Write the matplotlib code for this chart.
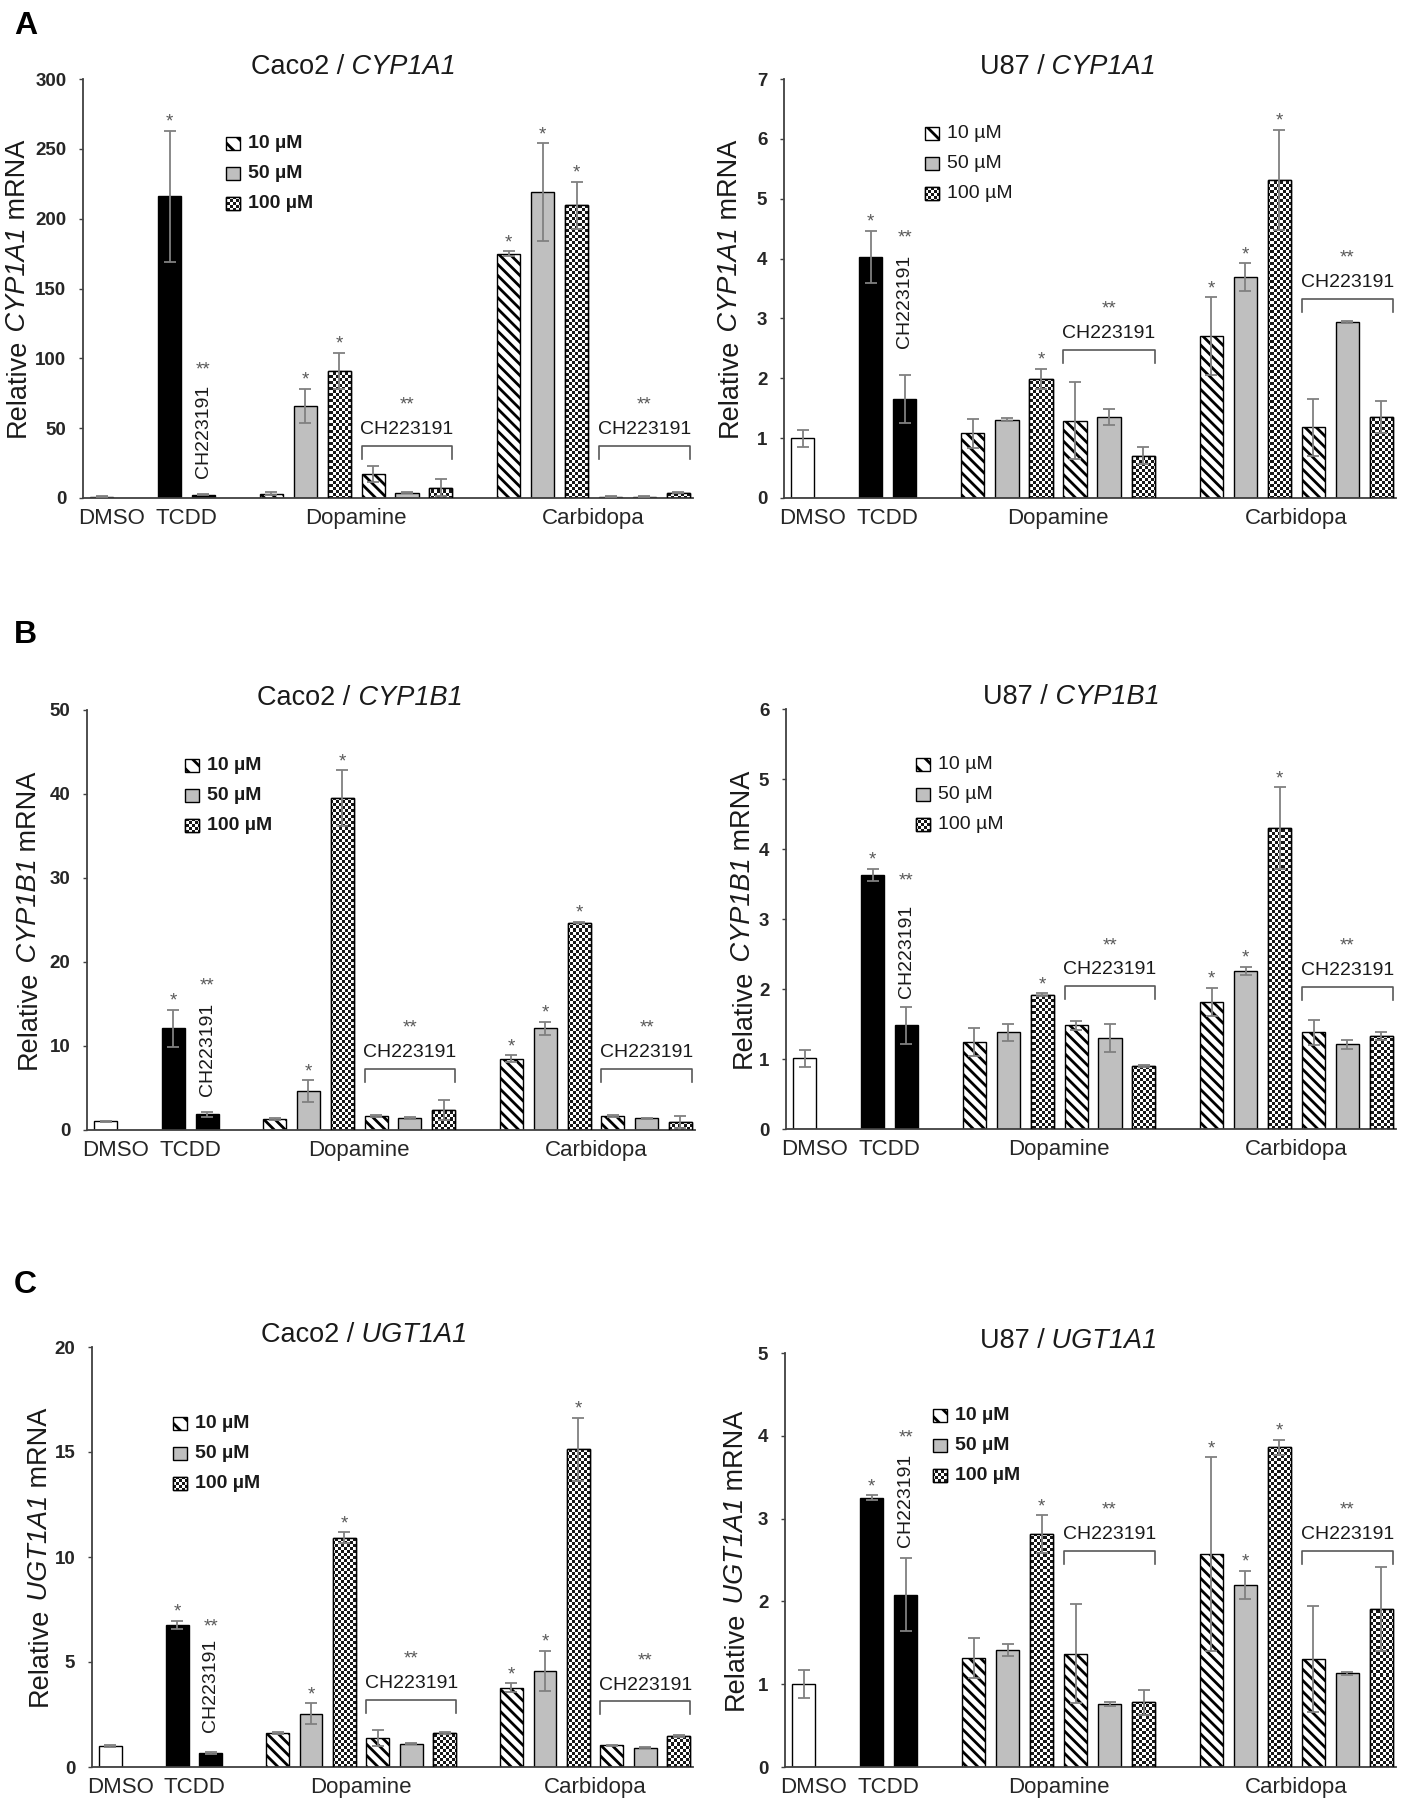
import matplotlib
matplotlib.use("Agg")
import matplotlib.pyplot as plt
import numpy as np
from matplotlib.patches import Rectangle

plt.rcParams["font.family"] = ["Liberation Sans", "DejaVu Sans"]
plt.rcParams["hatch.linewidth"] = 2.0

W, H = 1410, 1800

# bar order: DMSO, TCDD, TCDD+CH, Dop 10/50/100, Dop+CH 10/50/100, Carb 10/50/100, Carb+CH 10/50/100
slots = [0, 2, 3, 5, 6, 7, 8, 9, 10, 12, 13, 14, 15, 16, 17]
kinds = ["white", "black", "black",
         "s10", "s50", "s100", "s10", "s50", "s100",
         "s10", "s50", "s100", "s10", "s50", "s100"]
group_names = ["DMSO", "TCDD", "Dopamine", "Carbidopa"]
group_pos = [0.3, 2.5, 7.5, 14.5]
legend_labels = ["10 µM", "50 µM", "100 µM"]

caco2_cyp1a1 = [1.0, 216, 2.5, 3, 66, 91, 17.3, 3.8, 7.4, 175, 219, 209.5, 1.0, 1.0, 3.8]
caco2_cyp1a1_err = [0.3, 47, 0.5, 1, 12, 13, 5.5, 0.5, 6, 1.5, 35, 17, 0.3, 0.3, 0.5]
u87_cyp1a1 = [1.0, 4.03, 1.66, 1.08, 1.31, 1.99, 1.29, 1.35, 0.71, 2.70, 3.69, 5.31, 1.18, 2.94, 1.35]
u87_cyp1a1_err = [0.14, 0.43, 0.40, 0.24, 0.03, 0.17, 0.64, 0.13, 0.14, 0.65, 0.23, 0.84, 0.48, 0.02, 0.27]
caco2_cyp1b1 = [1.03, 12.1, 1.9, 1.3, 4.6, 39.5, 1.7, 1.45, 2.4, 8.5, 12.1, 24.7, 1.7, 1.4, 0.94]
caco2_cyp1b1_err = [0.05, 2.2, 0.3, 0.1, 1.3, 3.3, 0.1, 0.1, 1.2, 0.4, 0.8, 0.1, 0.1, 0.05, 0.7]
u87_cyp1b1 = [1.01, 3.63, 1.48, 1.24, 1.38, 1.92, 1.48, 1.30, 0.90, 1.82, 2.26, 4.30, 1.38, 1.21, 1.33]
u87_cyp1b1_err = [0.12, 0.09, 0.26, 0.2, 0.12, 0.02, 0.06, 0.2, 0.01, 0.2, 0.06, 0.58, 0.18, 0.06, 0.06]
caco2_ugt1a1 = [1.0, 6.75, 0.67, 1.6, 2.53, 10.92, 1.39, 1.11, 1.6, 3.78, 4.58, 15.13, 1.03, 0.92, 1.49]
caco2_ugt1a1_err = [0.03, 0.2, 0.05, 0.05, 0.5, 0.25, 0.38, 0.02, 0.05, 0.2, 0.95, 1.5, 0.03, 0.03, 0.05]
u87_ugt1a1 = [1.0, 3.25, 2.08, 1.32, 1.41, 2.81, 1.37, 0.76, 0.78, 2.57, 2.20, 3.86, 1.30, 1.13, 1.91]
u87_ugt1a1_err = [0.17, 0.03, 0.44, 0.24, 0.07, 0.23, 0.6, 0.02, 0.15, 1.17, 0.17, 0.09, 0.64, 0.02, 0.51]

stars_caco2 = [1, 4, 5, 9, 10, 11]
stars_u87 = [1, 5, 9, 10, 11]

BAR_W = 0.68
STRIPES = "\\\\\\"
face = {"white": "white", "black": "black", "s10": "white", "s50": "#bfbfbf", "s100": "white"}
GRAY = "#595959"
DARK = "#1a1a1a"

fig = plt.figure(figsize=(W / 100, H / 100), dpi=100)
renderer = fig.canvas.get_renderer()


def checker(ax, clip, wpx, hpx, z):
    r, c = np.indices((int(round(hpx)), int(round(wpx))))
    arr = ((r // 3 + c // 3) % 2).astype(float)
    im = ax.imshow(arr, extent=(0, 1, 0, 1), transform=ax.transAxes, cmap="gray_r",
                   vmin=0, vmax=1.1, interpolation="nearest", aspect="auto", zorder=z)
    im.set_clip_path(clip)


def rich_text(ax, xc, y, parts, wpx, hpx, vertical, fontsize):
    # chain of text pieces (regular / italic) laid out one after another
    rot = 90 if vertical else 0
    first = ax.text(xc, y, parts[0][0], transform=ax.transAxes, rotation=rot,
                    ha="center" if vertical else "left", va="bottom", fontsize=fontsize,
                    style=parts[0][1], color=DARK)
    pieces = [first]
    for s, st in parts[1:]:
        xy = (0.5, 1) if vertical else (1, 0)
        prev = ax.annotate(s, xy=xy, xycoords=pieces[-1], rotation=rot,
                           ha="center" if vertical else "left", va="bottom",
                           fontsize=fontsize, style=st, color=DARK)
        pieces.append(prev)
    if vertical:
        total = sum(p.get_window_extent(renderer).height for p in pieces)
        first.set_y(y - total / 2 / hpx)
    else:
        total = sum(p.get_window_extent(renderer).width for p in pieces)
        first.set_x(xc - total / 2 / wpx)


def draw_legend(ax, fx, fy, wpx, hpx, bold):
    sw, sh = 14 / wpx, 13 / hpx
    step = 30 / hpx
    for j, (k, lab) in enumerate(zip(["s10", "s50", "s100"], legend_labels)):
        yc = fy - j * step
        r = Rectangle((fx, yc - sh / 2), sw, sh, transform=ax.transAxes, facecolor=face[k],
                      edgecolor="black", lw=1.0, zorder=5, clip_on=False)
        if k == "s10":
            r.set_hatch("\\\\")
        ax.add_patch(r)
        if k == "s100":
            checker(ax, r, wpx, hpx, 5.5)
            ax.add_patch(Rectangle((fx, yc - sh / 2), sw, sh, transform=ax.transAxes, fill=False,
                                   edgecolor="black", lw=1.0, zorder=6, clip_on=False))
        ax.text(fx + sw + 8 / wpx, yc, lab, transform=ax.transAxes, va="center", ha="left",
                fontsize=14, fontweight="bold" if bold else "normal", color=DARK)


def draw_panel(box, mean, err, stars, ymax, step, cell, gene, title_x, ylab_x,
               ch_text_y, ch_star_y, bracket_y, leg_xy, leg_bold):
    x0, y0, x1, y1 = box
    wpx, hpx = x1 - x0, y1 - y0
    ax = fig.add_axes([x0 / W, 1 - y1 / H, wpx / W, hpx / H])

    bars = ax.bar(slots, mean, width=BAR_W, color=[face[k] for k in kinds],
                  edgecolor="black", linewidth=1.0, zorder=2)
    for b, k in zip(bars, kinds):
        if k == "s10":
            b.set_hatch(STRIPES)
        if k == "s100":
            checker(ax, b, wpx, hpx, 2.5)
            ax.add_patch(Rectangle(b.get_xy(), b.get_width(), b.get_height(), fill=False,
                                   edgecolor="black", lw=1.0, zorder=3))
    ax.errorbar(slots, mean, yerr=err, fmt="none", ecolor="#808080", elinewidth=1.3,
                capsize=4, capthick=1.3, zorder=4)

    for i in stars:
        ax.annotate("*", (slots[i], mean[i] + err[i]), xytext=(0, 3), textcoords="offset points",
                    ha="center", va="baseline", fontsize=13.5, color=GRAY)

    ax.text(slots[2], ch_text_y, "CH223191", rotation=90, ha="center", va="bottom",
            fontsize=14, color=DARK)
    ax.annotate("**", (slots[2], ch_star_y), xytext=(0, -7.5), textcoords="offset points",
                ha="center", va="baseline", fontsize=13.5, color=GRAY)

    tick = ymax * 13 / hpx
    for (a, b), yb in zip([(6, 8), (12, 14)], bracket_y):
        xa = slots[a] - BAR_W / 2
        xb = slots[b] + BAR_W / 2
        ax.plot([xa, xa, xb, xb], [yb - tick, yb, yb, yb - tick], color=GRAY, lw=1.2,
                clip_on=False, zorder=4)
        xm = (slots[a] + slots[b]) / 2
        ax.annotate("CH223191", (xm, yb), xytext=(0, 8.6), textcoords="offset points",
                    ha="center", va="baseline", fontsize=14, color=DARK)
        ax.annotate("**", (xm, yb), xytext=(0, 26), textcoords="offset points",
                    ha="center", va="baseline", fontsize=13.5, color=GRAY)

    for name, xp in zip(group_names, group_pos):
        ax.annotate(name, (xp, 0), xycoords=("data", "axes fraction"), xytext=(0, -7),
                    textcoords="offset points", ha="center", va="top", fontsize=16,
                    color="#262626")

    draw_legend(ax, leg_xy[0], leg_xy[1], wpx, hpx, leg_bold)

    rich_text(ax, title_x, 0.998, [(cell + " /", "normal"), (" " + gene, "italic")],
              wpx, hpx, False, 19.5)
    rich_text(ax, ylab_x, 0.5, [("Relative", "normal"), (" " + gene, "italic"),
                                (" mRNA", "normal")], wpx, hpx, True, 19.5)

    for s in ["top", "right"]:
        ax.spines[s].set_visible(False)
    for s in ["left", "bottom"]:
        ax.spines[s].set_color("#404040")
        ax.spines[s].set_linewidth(1.3)
    ticks = np.arange(0, ymax + step / 2, step)
    ax.set_yticks(ticks, labels=[f"{t:g}" for t in ticks], fontweight="bold", fontsize=13.5)
    ax.tick_params(axis="y", length=3, width=1.0, color="#404040", pad=9, labelcolor="#262626")
    ax.set_xticks([])
    ax.set_xlim(-0.55, 17.43)
    ax.set_ylim(0, ymax)
    return ax


draw_panel((83, 79, 693, 498), caco2_cyp1a1, caco2_cyp1a1_err, stars_caco2, 300, 50,
           "Caco2", "CYP1A1", 0.443, -0.107, 14, 96, (37.5, 37.5), (0.234, 0.845), True)
draw_panel((784, 79, 1396, 498), u87_cyp1a1, u87_cyp1a1_err, stars_u87, 7, 1,
           "U87", "CYP1A1", 0.464, -0.088, 2.5, 4.45, (2.48, 3.33), (0.230, 0.870), False)
draw_panel((87, 710, 695, 1130), caco2_cyp1b1, caco2_cyp1b1_err, stars_caco2, 50, 10,
           "Caco2", "CYP1B1", 0.449, -0.095, 4.1, 17.9, (7.26, 7.26), (0.161, 0.867), True)
draw_panel((786, 709, 1396, 1129), u87_cyp1b1, u87_cyp1b1_err, stars_u87, 6, 1,
           "U87", "CYP1B1", 0.468, -0.070, 1.87, 3.63, (2.04, 2.03), (0.213, 0.867), False)
draw_panel((92, 1347, 693, 1767), caco2_ugt1a1, caco2_ugt1a1_err, stars_caco2, 20, 5,
           "Caco2", "UGT1A1", 0.453, -0.087, 1.68, 6.97, (3.2, 3.12), (0.135, 0.819), True)
draw_panel((785, 1353, 1396, 1767), u87_ugt1a1, u87_ugt1a1_err, stars_u87, 5, 1,
           "U87", "UGT1A1", 0.464, -0.080, 2.66, 4.05, (2.61, 2.61), (0.243, 0.848), True)

for letter, ypx in [("A", 34), ("B", 643), ("C", 1293)]:
    fig.text(14 / W, 1 - ypx / H, letter, fontsize=23, fontweight="bold", va="baseline",
             ha="left")

fig.savefig("out.png", dpi=100, facecolor="white")
